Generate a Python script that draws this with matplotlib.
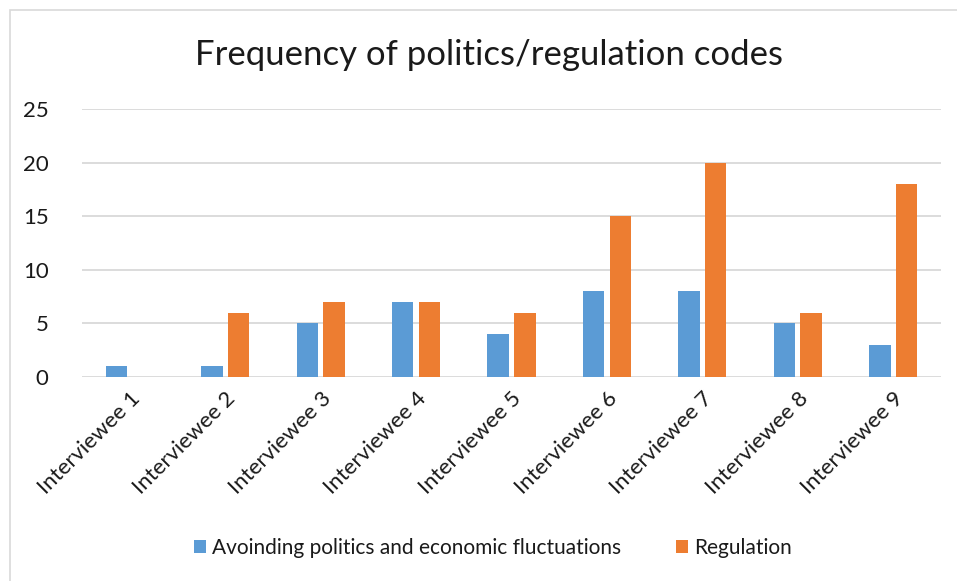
import numpy as np
import matplotlib.pyplot as plt
from matplotlib.patches import Rectangle

plt.rcParams['font.family'] = ['Lato', 'DejaVu Sans']

categories = ['Interviewee 1', 'Interviewee 2', 'Interviewee 3', 'Interviewee 4', 'Interviewee 5',
              'Interviewee 6', 'Interviewee 7', 'Interviewee 8', 'Interviewee 9']
avoiding = [1, 1, 5, 7, 4, 8, 8, 5, 3]
regulation = [0, 6, 7, 7, 6, 15, 20, 6, 18]
yticks = [0, 5, 10, 15, 20, 25]

blue = '#5B9BD5'
orange = '#ED7D31'
txt = '#1a1a1a'

fig = plt.figure(figsize=(9.57, 5.81), dpi=100)
# chart border
fig.patches.append(Rectangle((10 / 957, -0.05), 1.1, 1 - 10 / 581 + 0.05, transform=fig.transFigure,
                             fill=False, edgecolor='#d9d9d9', linewidth=1.2))
ax = fig.add_axes([82 / 957, 204 / 581, 859 / 957, 268 / 581])

x = np.arange(len(categories))
w = 0.225
ax.bar(x - 0.14, avoiding, w, color=blue, label='Avoinding politics and economic fluctuations', zorder=3)
ax.bar(x + 0.14, regulation, w, color=orange, label='Regulation', zorder=3)

ax.set_xlim(-0.5, len(categories) - 0.5)
ax.set_ylim(0, 25)
ax.set_yticks(yticks)
ax.yaxis.grid(True, color='#d9d9d9', linewidth=1.3, zorder=0)
for s in ax.spines.values():
    s.set_visible(False)
ax.tick_params(axis='both', length=0, labelsize=16, colors=txt)
ax.tick_params(axis='y', pad=24)
ax.set_xticks(x)
ax.set_xticklabels(categories, rotation=45, ha='right', va='top', rotation_mode='anchor')
ax.tick_params(axis='x', pad=8)

fig.text(489 / 957, 1 - 55 / 581, 'Frequency of politics/regulation codes', ha='center', va='center',
         fontsize=25, color=txt)

fig.legend(loc='center', bbox_to_anchor=(493 / 957, 1 - 548 / 581), ncol=2, frameon=False,
           fontsize=15, handlelength=0.6, handleheight=0.6, handletextpad=0.3, columnspacing=2.6,
           labelcolor=txt)

fig.savefig('out.png', dpi=100)
